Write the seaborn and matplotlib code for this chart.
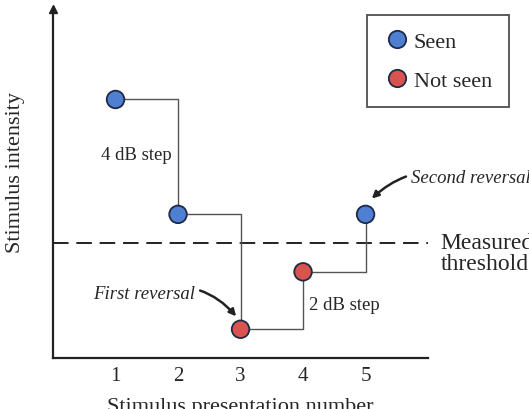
import numpy as np
import matplotlib
matplotlib.use("Agg")
import matplotlib.pyplot as plt
import pandas as pd
import seaborn as sns
from matplotlib.lines import Line2D

# staircase data
presentation = [1, 2, 3, 4, 5]
intensity = [9, 5, 1, 3, 5]
response = ["Seen", "Seen", "Not seen", "Not seen", "Seen"]
threshold = 4
xticks = [1, 2, 3, 4, 5]

colors = {"Seen": "#4f7fd3", "Not seen": "#d9534f"}

df = pd.DataFrame({"n": presentation, "db": intensity, "resp": response})

sns.set_style("white")
plt.rcParams["font.family"] = ["Liberation Serif", "DejaVu Serif"]

fig = plt.figure(figsize=(5.29, 4.10), dpi=100)
ax = fig.add_axes([0.1002, 0.1244, 0.709, 0.8512])

sns.lineplot(data=df, x="n", y="db", drawstyle="steps-post", color="#555555",
             linewidth=1.0, ax=ax, zorder=2)
ax.axhline(threshold, color="#222222", linestyle=(0, (8, 4)), linewidth=1.4, zorder=1)
sns.scatterplot(data=df, x="n", y="db", hue="resp", palette=colors, s=160,
                edgecolor="#1f2a44", linewidth=1.3, ax=ax, zorder=3, legend=False)

ax.set_xlim(0, 6)
ax.set_ylim(0, 12.15)
ax.set_xticks(xticks)
ax.set_xticklabels([str(t) for t in xticks], fontsize=15)
ax.set_yticks([])
ax.tick_params(axis="x", length=2, width=1, color="#555555", pad=4)
for side in ["top", "right"]:
    ax.spines[side].set_visible(False)
for side in ["left", "bottom"]:
    ax.spines[side].set_color("#222222")
    ax.spines[side].set_linewidth(1.6)
# arrowhead on y axis
ax.plot([0], [1], marker="^", markersize=6, color="#222222", transform=ax.transAxes,
        clip_on=False)

ax.set_xlabel("Stimulus presentation number", fontsize=16)
ax.xaxis.set_label_coords(0.5, -0.113, transform=ax.transAxes)
ax.xaxis.label.set_va("top")
ax.set_ylabel("Stimulus intensity", fontsize=16)
ax.yaxis.set_label_coords(-0.075, 0.535)

ax.text(1.9, 7.1, "4 dB step", fontsize=13.5, ha="right", va="center")
ax.text(4.1, 1.85, "2 dB step", fontsize=13.5, ha="left", va="center")
ax.annotate("First reversal", xy=(2.93, 1.45), xytext=(2.28, 2.25), fontsize=13.5,
            style="italic", ha="right", va="center",
            arrowprops=dict(arrowstyle="-|>", color="#222222", lw=1.8,
                            connectionstyle="arc3,rad=-0.35", shrinkA=1, shrinkB=0,
                            mutation_scale=10))
ax.annotate("Second reversal", xy=(5.1, 5.55), xytext=(5.72, 6.3), fontsize=13.5,
            style="italic", ha="left", va="center", annotation_clip=False,
            arrowprops=dict(arrowstyle="-|>", color="#222222", lw=1.8,
                            connectionstyle="arc3,rad=0.3", shrinkA=1, shrinkB=0,
                            mutation_scale=10))
ax.text(6.2, 3.65, "Measured\nthreshold", fontsize=17, ha="left", va="center",
        linespacing=1.0, clip_on=False)

handles = [Line2D([], [], marker="o", linestyle="", markersize=12.5,
                  markerfacecolor=colors[k], markeredgecolor="#1f2a44",
                  markeredgewidth=1.3, label=k) for k in ["Seen", "Not seen"]]
leg = fig.legend(handles=handles, loc="upper left", bbox_to_anchor=(0.694, 0.961),
                 borderaxespad=0, fontsize=16, frameon=True, fancybox=False,
                 handletextpad=0.15, borderpad=0.75, labelspacing=0.8,
                 handlelength=1.2)
leg.get_frame().set_edgecolor("#222222")
leg.get_frame().set_linewidth(1.3)

fig.savefig("out.png", dpi=100)
